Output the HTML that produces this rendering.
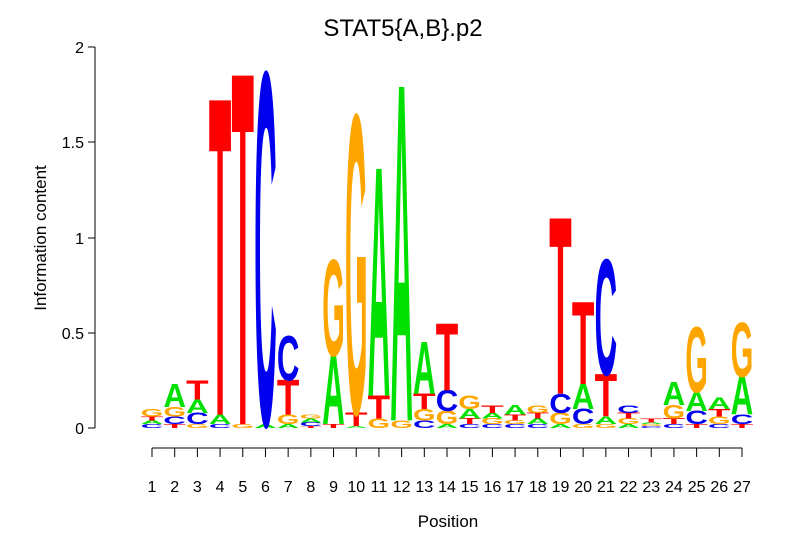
<!DOCTYPE html>
<html><head><meta charset="utf-8"><style>
html,body{margin:0;padding:0;background:#fff;}
svg{display:block;font-family:"Liberation Sans",sans-serif;}
</style></head><body>
<svg id="s" width="806" height="559" viewBox="0 0 806 559" xmlns="http://www.w3.org/2000/svg">
<text x="403" y="36" font-size="24" text-anchor="middle">STAT5{A,B}.p2</text>
<text x="448" y="527" font-size="17" text-anchor="middle">Position</text>
<text transform="translate(46,238) rotate(-90)" font-size="17" text-anchor="middle">Information content</text>
<g stroke="#000" stroke-width="1" fill="none">
<line x1="95" y1="47" x2="95" y2="428"/>
<line x1="88" y1="428" x2="95" y2="428"/>
<line x1="88" y1="333" x2="95" y2="333"/>
<line x1="88" y1="238" x2="95" y2="238"/>
<line x1="88" y1="142" x2="95" y2="142"/>
<line x1="88" y1="47" x2="95" y2="47"/>
<line x1="152" y1="448" x2="742" y2="448"/>
</g>
<g font-size="16" text-anchor="end">
<text x="84" y="434">0</text>
<text x="84" y="339">0.5</text>
<text x="84" y="244">1</text>
<text x="84" y="148">1.5</text>
<text x="84" y="53">2</text>
</g>
<g id="ticks"></g>
<g id="logo"></g>
</svg>
<script>
var cols=[
[["C",.02],["A",.02],["T",.02],["G",.04]],
[["T",.02],["C",.04],["G",.05],["A",.12]],
[["G",.02],["C",.06],["A",.07],["T",.1]],
[["C",.02],["A",.05],["T",1.65]],
[["G",.02],["T",1.83]],
[["A",.02],["C",1.83]],
[["A",.02],["G",.05],["T",.18],["C",.23]],
[["T",.01],["C",.02],["A",.02],["G",.02]],
[["T",.02],["A",.36],["G",.5]],
[["A",.01],["T",.07],["G",1.55]],
[["G",.05],["T",.12],["A",1.19]],
[["G",.04],["A",1.75]],
[["C",.04],["G",.06],["T",.08],["A",.27]],
[["A",.02],["G",.07],["C",.11],["T",.35]],
[["C",.02],["T",.03],["A",.05],["G",.07]],
[["C",.02],["G",.03],["A",.03],["T",.04]],
[["C",.02],["G",.02],["T",.03],["A",.05]],
[["C",.02],["A",.03],["T",.03],["G",.04]],
[["A",.02],["G",.06],["C",.1],["T",.92]],
[["G",.02],["C",.08],["A",.13],["T",.43]],
[["G",.02],["A",.04],["T",.22],["C",.6]],
[["A",.02],["G",.03],["T",.03],["C",.04]],
[["C",.01],["G",.01],["A",.01],["T",.02]],
[["C",.02],["T",.03],["G",.07],["A",.12]],
[["T",.02],["C",.07],["A",.1],["G",.34]],
[["C",.02],["G",.04],["T",.04],["A",.06]],
[["T",.02],["C",.05],["A",.2],["G",.28]]
];
var col={A:"#00E000",C:"#0000EE",G:"#FFA500",T:"#FF0000"};
var ns="http://www.w3.org/2000/svg",L=document.getElementById("logo"),T=document.getElementById("ticks");
var step=590/26,ppb=190.5,base=428,w=22.5;
for(var i=0;i<27;i++){
 var cx=152+i*step;
 var t=document.createElementNS(ns,"line");
 t.setAttribute("x1",cx);t.setAttribute("x2",cx);t.setAttribute("y1",448);t.setAttribute("y2",457);t.setAttribute("stroke","#000");T.appendChild(t);
 var lb=document.createElementNS(ns,"text");lb.setAttribute("x",cx);lb.setAttribute("y",492);lb.setAttribute("font-size","16");lb.setAttribute("text-anchor","middle");lb.textContent=(i+1);T.appendChild(lb);
 var y=base;
 cols[i].forEach(function(p){
  var h=p[1]*ppb; if(h<0.5){y-=h;return;}
  var e=document.createElementNS(ns,"text");
  e.setAttribute("x",cx-w/2);e.setAttribute("y",0);
  e.setAttribute("font-size","100");e.setAttribute("font-weight","bold");
  e.setAttribute("textLength",w);e.setAttribute("lengthAdjust","spacingAndGlyphs");
  e.setAttribute("fill",col[p[0]]);
  e.setAttribute("transform","translate(0,"+y+") scale(1,"+(h/68.8)+")");
  e.textContent=p[0];L.appendChild(e);y-=h;
 });
}
</script>
</body></html>
